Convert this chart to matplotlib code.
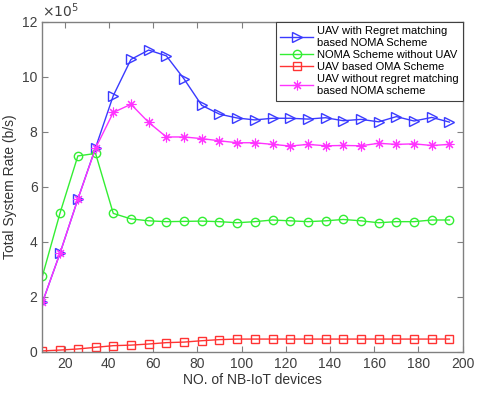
import matplotlib

matplotlib.use("Agg")
import matplotlib.pyplot as plt
from matplotlib.ticker import FuncFormatter

plt.rcParams["font.family"] = ["Liberation Sans", "DejaVu Sans"]

# number of NB-IoT devices
devices = [10, 18, 26, 34, 42, 50, 58, 66, 74, 82, 90, 98,
           106, 114, 122, 130, 138, 146, 154, 162, 170, 178, 186, 194]
# total system rate, in units of 1e5 b/s
regret_noma = [1.8, 3.6, 5.55, 7.42, 9.31, 10.63, 10.97, 10.76, 9.92, 8.96, 8.64, 8.5,
               8.43, 8.49, 8.49, 8.46, 8.51, 8.40, 8.45, 8.36, 8.55, 8.39, 8.52, 8.35]
noma_no_uav = [2.76, 5.06, 7.12, 7.21, 5.03, 4.83, 4.76, 4.73, 4.74, 4.75, 4.73, 4.69,
               4.73, 4.79, 4.76, 4.73, 4.76, 4.81, 4.76, 4.69, 4.73, 4.73, 4.79, 4.79]
uav_oma = [0.03, 0.06, 0.10, 0.16, 0.22, 0.24, 0.28, 0.33, 0.35, 0.40, 0.44, 0.46,
           0.46, 0.46, 0.46, 0.46, 0.46, 0.46, 0.46, 0.46, 0.46, 0.46, 0.46, 0.46]
no_regret_noma = [1.8, 3.6, 5.55, 7.4, 8.7, 9.0, 8.34, 7.81, 7.81, 7.75, 7.67, 7.6,
                  7.6, 7.54, 7.48, 7.54, 7.49, 7.5, 7.49, 7.58, 7.54, 7.56, 7.5, 7.54]

# asterisk with 8 arms, like the MATLAB '*' marker
STAR = (8, 2, 0)
SERIES = [
    (regret_noma, "UAV with Regret matching\nbased NOMA Scheme", "#3a3aff", ">", 6.5, 1),
    (noma_no_uav, "NOMA Scheme without UAV", "#33ee33", "o", 6, 1),
    (uav_oma, "UAV based OMA Scheme", "#ff3333", "s", 5.5, 1),
    (no_regret_noma, "UAV without regret matching\nbased NOMA scheme", "#ff33ff", STAR, 7, 0.8),
]


def main():
    fig = plt.figure(figsize=(4.8, 3.99), dpi=100)
    ax = fig.add_axes([0.0885, 0.1185, 0.8755, 0.827])

    for vals, label, color, mark, ms, mew in SERIES:
        ax.plot(devices, [v * 1e5 for v in vals], color=color, lw=1, marker=mark,
                markersize=ms, markerfacecolor="none", markeredgecolor=color,
                markeredgewidth=mew, label=label)

    ax.set_xlim(10, 200)
    ax.set_ylim(0, 12e5)
    ax.set_xticks(range(20, 201, 20))
    ax.set_yticks([i * 2e5 for i in range(7)])
    ax.yaxis.set_major_formatter(FuncFormatter(lambda v, _: f"{v / 1e5:g}"))
    ax.text(0, 1.005, r"$\times 10^5$", transform=ax.transAxes, ha="left", va="bottom",
            fontsize=10, color="#404040")

    ax.tick_params(direction="in", top=True, right=True, length=4, width=0.8,
                   colors="#808080", labelcolor="#404040", labelsize=10)
    for s in ax.spines.values():
        s.set_color("#808080")
        s.set_linewidth(1)

    ax.set_xlabel("NO. of NB-IoT devices", fontsize=10, color="#333333", labelpad=2)
    ax.set_ylabel("Total System Rate (b/s)", fontsize=10, color="#333333", labelpad=4)

    leg = ax.legend(loc="upper right", fontsize=8, borderaxespad=0, handlelength=3,
                    fancybox=False, framealpha=1, labelspacing=0.2, borderpad=0.4,
                    handletextpad=0.3)
    leg.get_frame().set_edgecolor("#404040")
    leg.get_frame().set_linewidth(0.8)

    fig.savefig("out.png", dpi=100)


if __name__ == "__main__":
    main()
